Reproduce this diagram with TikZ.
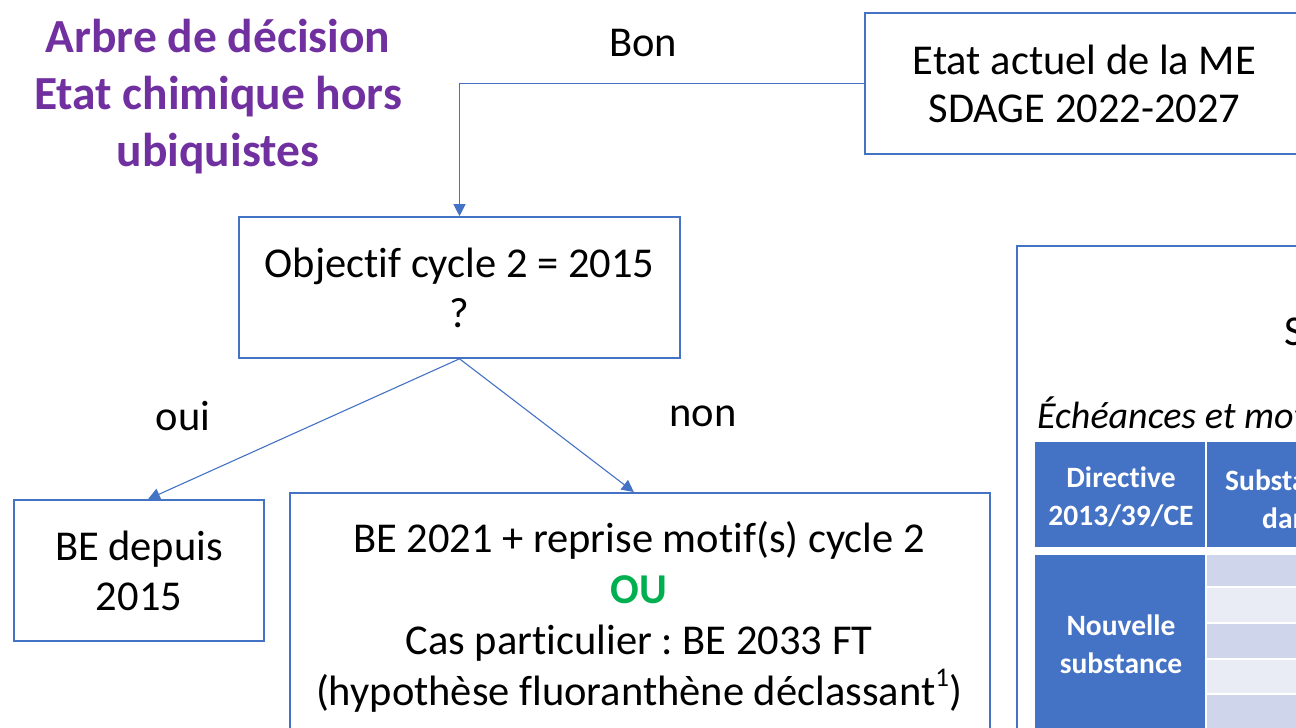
\documentclass[tikz,border=0pt]{standalone}
\usepackage{fontspec}
\setmainfont{Carlito}[Ligatures=NoCommon]
\usetikzlibrary{calc}
\usetikzlibrary{arrows.meta}
\frenchspacing

\definecolor{bleu}{HTML}{4472C4}
\definecolor{violet}{HTML}{7030A0}
\definecolor{vert}{HTML}{00B050}
\definecolor{rayeA}{HTML}{CFD5EA}
\definecolor{rayeB}{HTML}{E9EBF5}

\tikzset{
  box/.style={draw=bleu, line width=1.6pt, rectangle, inner sep=0pt},
  txt/.style={align=center, inner sep=0pt, font=\fontsize{42.5}{50}\selectfont},
  link/.style={draw=bleu, line width=1.1pt, -{Triangle[width=12pt,length=12pt]}},
  cell/.style={fill=bleu, draw=none},
  head/.style={text=white, align=center, inner sep=0pt, font=\fontsize{29.5}{38}\selectfont\bfseries}
}

\begin{document}
\begin{tikzpicture}[x=1pt, y=-1pt]

\useasboundingbox (0,0) rectangle (1296,728);
\clip (0,0) rectangle (1296,728);

% titre
\node[txt, text=violet, font=\fontsize{47.5}{57}\selectfont\bfseries] (titre) at (218,97)
  {Arbre de décision\\Etat chimique hors\\ubiquistes};

% boites de l'arbre
\node[box, minimum width=439, minimum height=141] (etat) at (1084.5,83.5) {};
\node[txt, font=\fontsize{42.5}{48}\selectfont] (etatt) at (etat) {Etat actuel de la ME\\SDAGE 2022-2027};

\node[box, minimum width=441, minimum height=141] (obj) at (459.5,287.5) {};
\node[txt] (objt) at (obj) {Objectif cycle 2 = 2015\\?};

\node[box, minimum width=250, minimum height=141] (be) at (139,570.5) {};
\node[txt] (bet) at (be) {BE depuis\\2015};

\node[box, minimum width=700, minimum height=300, anchor=north west] (be21) at (289,492) {};
\node[txt, font=\fontsize{42.5}{51}\selectfont, anchor=north] (be21t) at (639,521)
  {BE 2021 + reprise motif(s) cycle 2\\
   {\color{vert}\bfseries OU}\\
   Cas particulier : BE 2033 FT\\
   (hypothèse fluoranthène déclassant\raisebox{0.45em}{\fontsize{27}{30}\selectfont 1})};

% liaisons
\draw[link] (etat.west) -| (obj.north);
\draw[link] (obj.south) -- ([xshift=9]be.north);
\draw[link] (obj.south) -- ([xshift=-6]be21.north);

\node[txt] (bon) at (643,43) {Bon};
\node[txt] (oui) at (183,416) {oui};
\node[txt] (non) at (703,416) {non};

% encadre de droite (coupe)
\node[box, minimum width=400, minimum height=600, anchor=north west] (cadre) at (1016,245) {};
\node[txt, anchor=base west] (st) at (1284,345) {S};
\node[txt, anchor=base west, font=\fontsize{38}{46}\selectfont\itshape] (ech) at (1037,428) {Échéances et mot};

% tableau
\fill[cell] (1035,442) rectangle (1205,547);
\fill[cell] (1207,442) rectangle (1300,547);
\fill[cell] (1035,555) rectangle (1205,740);
\fill[rayeA] (1207,555) rectangle (1300,586);
\fill[rayeB] (1207,588) rectangle (1300,622);
\fill[rayeA] (1207,624) rectangle (1300,658);
\fill[rayeB] (1207,660) rectangle (1300,693);
\fill[rayeA] (1207,695) rectangle (1300,740);

\node[head] (dir) at (1121,497) {Directive\\2013/39/CE};
\node[head, anchor=base west] (sub) at (1225,490) {Substa};
\node[head, anchor=base west] (dan) at (1262,528) {dan};
\node[head] (nouv) at (1121,644) {Nouvelle\\substance};

\end{tikzpicture}
\end{document}
